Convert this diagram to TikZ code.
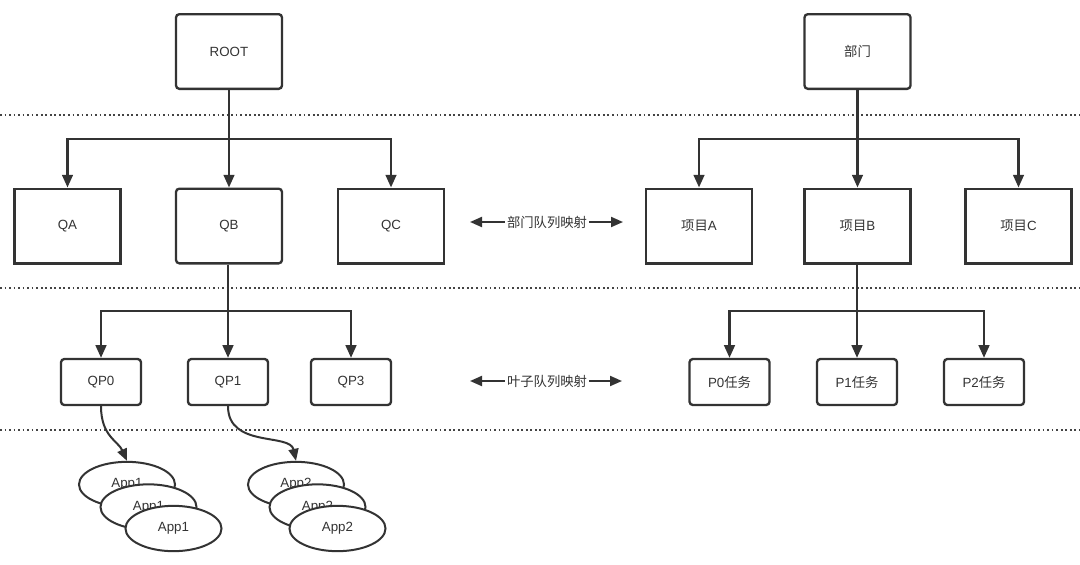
\documentclass[tikz,border=0pt]{standalone}
\usepackage{fontspec}
\setmainfont{Liberation Sans}
\newfontfamily\cjk{Noto Sans CJK SC}
\usetikzlibrary{arrows.meta,shapes.geometric}
\definecolor{ink}{HTML}{333333}
\definecolor{dotc}{HTML}{444444}
\tikzset{
  bigbox/.style={draw=ink, line width=1.75pt, minimum width=79.5pt, minimum height=56pt, inner sep=0pt, text=ink, font=\fontsize{10}{12}\selectfont},
  rbox/.style={bigbox, rounded corners=2.5pt},
  smallbox/.style={draw=ink, line width=1.75pt, rounded corners=2.5pt, minimum width=60pt, minimum height=34.5pt, inner sep=0pt, text=ink, font=\fontsize{10}{12}\selectfont},
  appell/.style={ellipse, draw=ink, line width=1.5pt, fill=white, minimum width=72pt, minimum height=34pt, inner sep=0pt, text=ink, font=\fontsize{10}{12}\selectfont},
  arr/.style={draw=ink, line width=1.75pt, -{Triangle[length=9.5pt,width=8pt]}},
  thinarr/.style={draw=ink, line width=1.5pt, -{Triangle[length=9pt,width=7.5pt]}},
  dotline/.style={draw=dotc, line width=1.4pt, dash pattern=on 1.3pt off 2.1pt},
  maplabel/.style={text=ink, inner sep=1.5pt, font=\fontsize{10}{12}\selectfont\cjk},
}
\begin{document}
\begin{tikzpicture}[x=0.75pt,y=-0.75pt]
\useasboundingbox (0,0) rectangle (1080,564);
% dotted separators
\draw[dotline] (0,115) -- (1080,115);
\draw[dotline] (0,288) -- (1080,288);
\draw[dotline] (0,430) -- (1080,430);

% left tree
\node[rbox] (root) at (229,51.5) {ROOT};
\node[bigbox] (qa) at (67.5,226) {QA};
\node[rbox] (qb) at (229,226) {QB};
\node[bigbox] (qc) at (391,226) {QC};
\coordinate (lb1) at (229,139);
\draw[arr] (root.south) -- (qb.north);
\draw[arr] (lb1) -| (qa.north);
\draw[arr] (lb1) -| (qc.north);

\node[smallbox] (qp0) at (101,382) {QP0};
\node[smallbox] (qp1) at (228,382) {QP1};
\node[smallbox] (qp3) at (351,382) {QP3};
\coordinate (lb2) at (228,311);
\draw[draw=ink, line width=1.75pt] (qb.south -| lb2) -- (lb2);
\draw[arr] (qb.south -| qp1.north) -- (qp1.north);
\draw[arr] (lb2) -| (qp0.north);
\draw[arr] (lb2) -| (qp3.north);

% apps
\node[appell] (a11) at (127,484.5) {App1};
\node[appell] (a12) at (148.5,507) {App1};
\node[appell] (a13) at (173.5,528.5) {App1};
\node[appell] (a21) at (296,484.5) {App2};
\node[appell] (a22) at (317.5,507) {App2};
\node[appell] (a23) at (337.5,528.5) {App2};
\draw[thinarr] (qp0.south) .. controls +(0,30) and +(-9,-20) .. (a11.north);
\draw[thinarr] (qp1.south) .. controls +(0,42) and +(-6,-28) .. (a21.north);

% mapping labels
\node[maplabel] (m1) at (547,222) {部门队列映射};
\coordinate (m1l) at (470,222);
\coordinate (m1r) at (623,222);
\draw[thinarr] (m1.west) -- (m1l);
\draw[thinarr] (m1.east) -- (m1r);
\node[maplabel] (m2) at (547,381) {叶子队列映射};
\coordinate (m2l) at (470,381);
\coordinate (m2r) at (622,381);
\draw[thinarr] (m2.west) -- (m2l);
\draw[thinarr] (m2.east) -- (m2r);

% right tree
\node[rbox] (dept) at (857.5,51.5) {\cjk 部门};
\node[bigbox] (pa) at (699,226) {{\cjk 项目}A};
\node[bigbox] (pb) at (857.5,226) {{\cjk 项目}B};
\node[bigbox] (pc) at (1018.5,226) {{\cjk 项目}C};
\coordinate (rb1) at (857.5,139);
\draw[arr] (dept.south) -- (pb.north);
\draw[arr] (rb1) -| (pa.north);
\draw[arr] (rb1) -| (pc.north);

\node[smallbox] (t0) at (729.5,382) {P0{\cjk 任务}};
\node[smallbox] (t1) at (857,382) {P1{\cjk 任务}};
\node[smallbox] (t2) at (984,382) {P2{\cjk 任务}};
\coordinate (rb2) at (857,311);
\draw[arr] (pb.south -| t1.north) -- (t1.north);
\draw[arr] (rb2) -| (t0.north);
\draw[arr] (rb2) -| (t2.north);
\end{tikzpicture}
\end{document}
